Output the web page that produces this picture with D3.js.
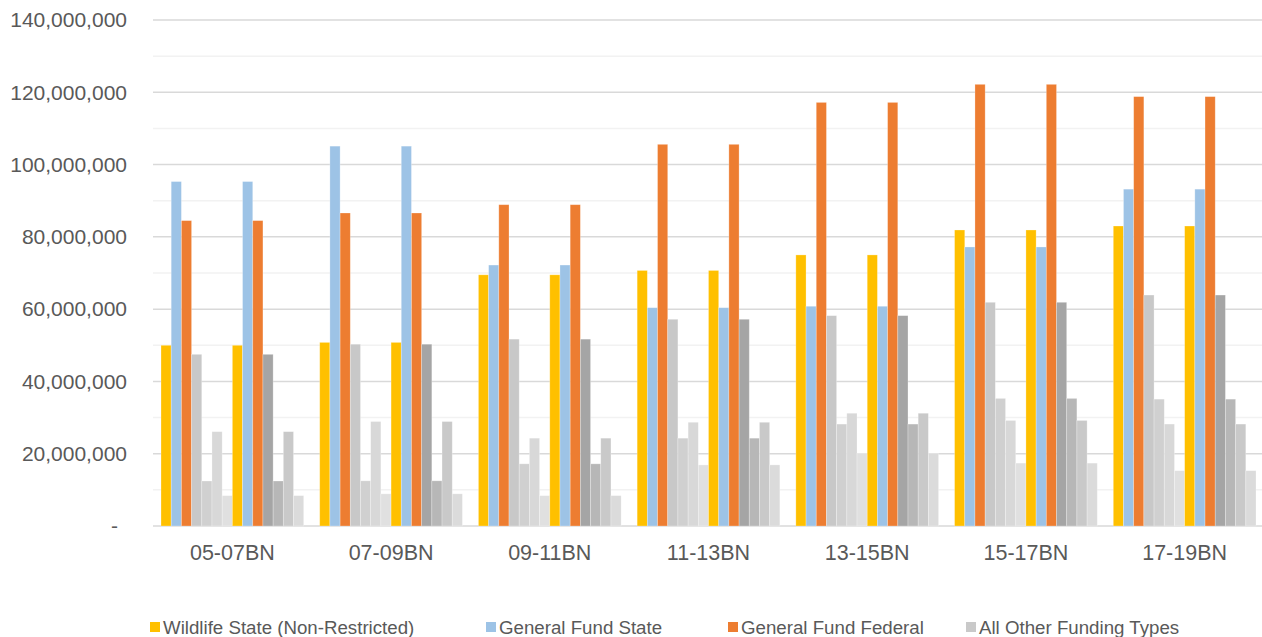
<!DOCTYPE html>
<html>
<head>
<meta charset="utf-8">
<script src="https://cdn.jsdelivr.net/npm/d3@7"></script>
<style>
  html, body { margin: 0; padding: 0; background: #fff; }
  svg { display: block; font-family: "Liberation Sans", Arial, sans-serif; }
</style>
</head>
<body>
<svg id="chart" width="1262" height="637"></svg>
<script>
const categories = ["05-07BN", "07-09BN", "09-11BN", "11-13BN", "13-15BN", "15-17BN", "17-19BN"];
const wildlifeState      = [50.0e6, 50.8e6, 69.5e6, 70.7e6, 75.0e6, 81.9e6, 83.0e6];
const generalFundState   = [95.3e6, 105.1e6, 72.2e6, 60.4e6, 60.8e6, 77.2e6, 93.2e6];
const generalFundFederal = [84.5e6, 86.6e6, 88.9e6, 105.6e6, 117.2e6, 122.2e6, 118.8e6];
const allOtherFunding    = [47.5e6, 50.3e6, 51.7e6, 57.2e6, 58.2e6, 61.9e6, 63.9e6];
const otherFunding2      = [12.45e6, 12.5e6, 17.2e6, 24.3e6, 28.2e6, 35.3e6, 35.1e6];
const otherFunding3      = [26.1e6, 28.9e6, 24.3e6, 28.7e6, 31.2e6, 29.2e6, 28.2e6];
const otherFunding4      = [8.4e6, 8.9e6, 8.4e6, 16.9e6, 20.1e6, 17.4e6, 15.3e6];
const yTicks = [0, 20e6, 40e6, 60e6, 80e6, 100e6, 120e6, 140e6];
const legendNames = ["Wildlife State (Non-Restricted)", "General Fund State", "General Fund Federal", "All Other Funding Types"];

const series = [
  { values: wildlifeState,      color: "#FFC000" },
  { values: generalFundState,   color: "#9DC3E6" },
  { values: generalFundFederal, color: "#ED7D31" },
  { values: allOtherFunding,    color: "#C8C8C8" },
  { values: otherFunding2,      color: "#D0D0D0" },
  { values: otherFunding3,      color: "#D8D8D8" },
  { values: otherFunding4,      color: "#E0E0E0" },
  { values: wildlifeState,      color: "#FFC000" },
  { values: generalFundState,   color: "#9DC3E6" },
  { values: generalFundFederal, color: "#ED7D31" },
  { values: allOtherFunding,    color: "#A5A5A5" },
  { values: otherFunding2,      color: "#B7B7B7" },
  { values: otherFunding3,      color: "#C9C9C9" },
  { values: otherFunding4,      color: "#DBDBDB" }
];
const legendColors = ["#FFC000", "#9DC3E6", "#ED7D31", "#C9C9C9"];

const svg = d3.select("#chart");
const plotLeft = 153, plotRight = 1264, plotTop = 20, plotBottom = 526;

const x0 = d3.scaleBand().domain(categories).range([plotLeft, plotRight]).padding(0);
const x1 = d3.scaleBand().domain(d3.range(series.length)).range([0, x0.bandwidth()])
  .paddingInner(0).paddingOuter(0.785);
const y = d3.scaleLinear().domain([0, 140e6]).range([plotBottom, plotTop]);

// minor gridlines
const minor = d3.range(10e6, 140e6, 20e6);
svg.append("g").selectAll("line").data(minor).join("line")
  .attr("x1", plotLeft).attr("x2", plotRight)
  .attr("y1", d => y(d)).attr("y2", d => y(d))
  .attr("stroke", "#F2F2F2").attr("stroke-width", 1.5);

// major gridlines
svg.append("g").selectAll("line").data(yTicks).join("line")
  .attr("x1", plotLeft).attr("x2", plotRight)
  .attr("y1", d => y(d)).attr("y2", d => y(d))
  .attr("stroke", "#D9D9D9").attr("stroke-width", 1.5);

// bars
const groups = svg.append("g").selectAll("g").data(categories).join("g")
  .attr("transform", c => `translate(${x0(c)},0)`);
groups.selectAll("rect")
  .data((c, ci) => series.map((s, si) => ({ si, v: s.values[ci], color: s.color })))
  .join("rect")
  .attr("x", d => x1(d.si))
  .attr("width", x1.bandwidth())
  .attr("y", d => y(d.v))
  .attr("height", d => y(0) - y(d.v))
  .attr("fill", d => d.color)
  .attr("stroke", "#ffffff").attr("stroke-opacity", 0.35).attr("stroke-width", 0.75);

// y axis labels
const fmt = d3.format(",");
svg.append("g").selectAll("text").data(yTicks).join("text")
  .attr("x", d => d === 0 ? 118 : 127)
  .attr("y", d => y(d))
  .attr("dy", "0.35em")
  .attr("text-anchor", "end")
  .attr("fill", "#595959")
  .attr("font-size", 21)
  .text(d => d === 0 ? "-" : fmt(d));

// x axis labels
svg.append("g").selectAll("text").data(categories).join("text")
  .attr("x", c => x0(c) + x0.bandwidth() / 2)
  .attr("y", 552)
  .attr("dy", "0.35em")
  .attr("text-anchor", "middle")
  .attr("fill", "#595959")
  .attr("font-size", 21.5)
  .text(c => c);

// legend
const legendX = [150, 486, 728, 966];
const lg = svg.append("g").selectAll("g").data(legendNames).join("g")
  .attr("transform", (d, i) => `translate(${legendX[i]},627)`);
lg.append("rect").attr("x", 0).attr("y", -5).attr("width", 10).attr("height", 10)
  .attr("fill", (d, i) => legendColors[i]);
lg.append("text").attr("x", 13).attr("y", 0).attr("dy", "0.35em")
  .attr("fill", "#595959").attr("font-size", 18.7).text(d => d);
</script>
</body>
</html>
